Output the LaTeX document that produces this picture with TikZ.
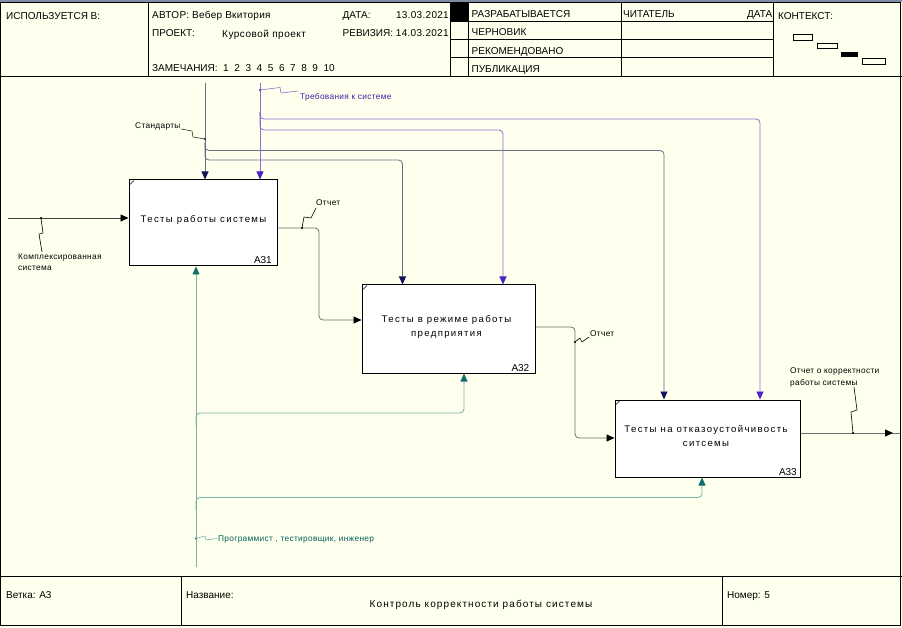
\documentclass[tikz,border=0pt]{standalone}
\usepackage{fontspec}
\setmainfont{Liberation Sans}
\newfontfamily\boxfont[LetterSpace=14]{Liberation Sans}
\newfontfamily\lblfont[LetterSpace=4]{Liberation Sans}
\usetikzlibrary{arrows.meta}

\definecolor{paper}{HTML}{FFFFEE}
\definecolor{topband}{HTML}{7E8CA6}
\definecolor{stdLine}{HTML}{6C6C84}
\definecolor{stdTip}{HTML}{14145A}
\definecolor{reqLine}{HTML}{8C6CD0}
\definecolor{reqTip}{HTML}{4A22C0}
\definecolor{reqText}{HTML}{3C1EA8}
\definecolor{outGrey}{HTML}{6E6E6E}
\definecolor{mechLine}{HTML}{7AB2A8}
\definecolor{mechTip}{HTML}{0A6E6A}
\definecolor{mechText}{HTML}{00605A}

\newcommand{\dg}{\hspace{5.6pt}}

\tikzset{
  rule/.style={line width=0.9pt, draw=black},
  hdr/.style={anchor=base west, inner sep=0pt, font=\fontsize{10}{12}\selectfont},
  hdre/.style={hdr, anchor=base east},
  act/.style={draw=black, fill=white, line width=1pt, inner sep=0pt, rectangle},
  acttxt/.style={anchor=base, inner sep=0pt, align=center, font=\boxfont\fontsize{9.6}{14}\selectfont},
  actnum/.style={anchor=base east, inner sep=0pt, font=\fontsize{10}{12}\selectfont},
  lbl/.style={anchor=base west, inner sep=0pt, align=left, font=\lblfont\fontsize{8.3}{11.5}\selectfont},
  conn/.style={line width=0.8pt, rounded corners=4pt},
  tipto/.style={-{Triangle[length=8pt,width=7pt,color=#1]}},
  squig/.style={line width=0.6pt},
  jdot/.style={fill=#1, draw=none},
}

\begin{document}
\begin{tikzpicture}[x=1pt,y=-1pt]
\useasboundingbox (0,0) rectangle (902,628);
\fill[paper] (0,0) rectangle (902,628);
\fill[topband] (0,0) rectangle (902,2.5);

% ---------- outer frame, header and footer rules ----------
\draw[rule, line width=1.2pt] (0.6,2.5) rectangle (900.4,625.4);
\draw[rule] (0,76.5) -- (902,76.5);
\draw[rule] (148.5,2.5) -- (148.5,76.5);
\draw[rule] (450.5,2.5) -- (450.5,76.5);
\draw[rule] (468.5,2.5) -- (468.5,76.5);
\draw[rule] (621.5,2.5) -- (621.5,76.5);
\draw[rule] (773.5,2.5) -- (773.5,76.5);
\draw[rule] (450.5,21) -- (773.5,21);
\draw[rule] (450.5,39) -- (773.5,39);
\draw[rule] (450.5,57) -- (773.5,57);
\fill[black] (451,3) rectangle (468,21);

\draw[rule] (0,576.5) -- (902,576.5);
\draw[rule] (181.5,576.5) -- (181.5,625.4);
\draw[rule] (722.5,576.5) -- (722.5,625.4);

% ---------- header texts ----------
\node[hdr] (used) at (6,20) {ИСПОЛЬЗУЕТСЯ В:};
\node[hdr] (author) at (152,18.5) {\addfontfeature{LetterSpace=3}АВТОР: Вебер Вкитория};
\node[hdr] (date) at (342.5,18.5) {ДАТА:};
\node[hdre] (dateval) at (449,18.5) {\addfontfeature{LetterSpace=3}13.03.2021};
\node[hdr] (project) at (152,36.5) {ПРОЕКТ:};
\node[hdr] (projname) at (222,37.5) {\addfontfeature{LetterSpace=5}Курсовой проект};
\node[hdr] (rev) at (342.5,36.5) {РЕВИЗИЯ: \addfontfeature{LetterSpace=3}14.03.2021};
\node[hdr] (notes) at (152,71.7) {ЗАМЕЧАНИЯ:\ \ 1\dg 2\dg 3\dg 4\dg 5\dg 6\dg 7\dg 8\dg 9\dg 10};

\node[hdr] (st1) at (471.5,17.5) {РАЗРАБАТЫВАЕТСЯ};
\node[hdr] (st2) at (471.5,35.8) {ЧЕРНОВИК};
\node[hdr] (st3) at (471.5,54.5) {РЕКОМЕНДОВАНО};
\node[hdr] (st4) at (471.5,72.8) {ПУБЛИКАЦИЯ};
\node[hdr] (reader) at (623,17.5) {ЧИТАТЕЛЬ};
\node[hdre] (rdate) at (772.5,17.5) {ДАТА};
\node[hdr] (ctx) at (778,19.5) {КОНТЕКСТ:};

% context map
\draw[line width=0.8pt] (793.5,34.5) rectangle (812,40);
\draw[line width=0.8pt] (817.5,43) rectangle (837,48);
\fill[black] (840.5,52) rectangle (858,57);
\draw[line width=0.8pt] (862.5,58.5) rectangle (885,64.5);

% ---------- footer texts ----------
\node[hdr] (branch) at (6,598) {Ветка: А3};
\node[hdr] (titlelbl) at (186,598) {Название:};
\node[hdr, anchor=base] (title) at (481,607.5) {\addfontfeature{LetterSpace=11}Контроль корректности работы системы};
\node[hdr] (pageno) at (727,598) {Номер: 5};

% ---------- activity boxes ----------
\node[act, minimum width=148pt, minimum height=86pt] (A31) at (203,223) {};
\node[act, minimum width=173pt, minimum height=88pt] (A32) at (448.5,329) {};
\node[act, minimum width=185pt, minimum height=77pt] (A33) at (707.5,438.5) {};
\foreach \b in {A31,A32,A33}
  \draw[line width=0.6pt] (\b.north west) ++(1.5,5) -- ++(4,-4);

\node[acttxt] (t31) at (203.5,222.7) {Тесты работы системы};
\node[acttxt] (t32) at (446.5,336.7) {Тесты в режиме работы\\предприятия};
\node[acttxt] (t33) at (706,446.7) {Тесты на отказоустойчивость\\ситсемы};
\node[actnum] (n31) at (272,263.3) {А31};
\node[actnum] (n32) at (529.5,371) {А32};
\node[actnum] (n33) at (797,475.7) {А33};

% ---------- input ----------
\coordinate (inStart) at (8,218);
\draw[conn, draw=black!75, tipto=black] (inStart) -- (inStart -| A31.west);
\fill[jdot=black] (41,218) circle (1.2);
\draw[squig, black] (41,218) -- (43,233) -- (39,234) -- (42,252);
\node[lbl] (inLbl) at (18,270.7) {Комплексированная\\система};

% ---------- control: standards ----------
\coordinate (stdTop) at (205,83);
\coordinate (stdA) at (205,143);
\coordinate (std33) at (664,150.5);
\coordinate (std32) at (402.5,160);
\draw[conn, draw=stdLine, tipto=stdTip] (stdTop) -- (stdTop |- A31.north);
\draw[conn, draw=stdLine, tipto=stdTip] (stdA) |- (std33) -- (std33 |- A33.north);
\draw[conn, draw=stdLine, tipto=stdTip] (stdA) |- (std32) -- (std32 |- A32.north);
\fill[jdot=stdTip] (205,139) circle (1.2);
\draw[squig, black!80] (205,139) -- (193,137) -- (192,131) -- (181,129);
\node[lbl] (stdLbl) at (135,128.3) {Стандарты};

% ---------- control: requirements ----------
\coordinate (reqTop) at (260,83);
\coordinate (reqA) at (260,112);
\coordinate (req33) at (760,119);
\coordinate (req32) at (503,130);
\draw[conn, draw=reqLine, tipto=reqTip] (reqTop) -- (reqTop |- A31.north);
\draw[conn, draw=reqLine, tipto=reqTip] (reqA) |- (req33) -- (req33 |- A33.north);
\draw[conn, draw=reqLine, tipto=reqTip] (reqA) |- (req32) -- (req32 |- A32.north);
\fill[jdot=reqTip] (260,90) circle (1.2);
\draw[squig, reqLine] (260,90) -- (280,87.5) -- (281,93) -- (298,91);
\node[lbl, text=reqText] (reqLbl) at (300,100) {Требования к системе};

% ---------- outputs ----------
\coordinate (o31) at (319,320);
\draw[conn, draw=outGrey, tipto=black] ([yshift=-5pt]A31.east) -| (o31) -- (o31 -| A32.west);
\fill[jdot=black] (302,228) circle (1.2);
\draw[squig, black] (302,228) -- (304,217) -- (311,218) -- (316,208);
\node[lbl] (o31Lbl) at (316,206) {Отчет};

\coordinate (o32) at (575,438);
\draw[conn, draw=outGrey, tipto=black] ([yshift=2pt]A32.east) -| (o32) -- (o32 -| A33.west);
\fill[jdot=black] (575,342) circle (1.2);
\draw[squig, black] (575,342) -- (580,338) -- (582,342) -- (589,337);
\node[lbl] (o32Lbl) at (590,336) {Отчет};

\coordinate (outEnd) at (900,433);
\coordinate (outTip) at (893,433);
\draw[conn, draw=outGrey] ([yshift=5.5pt]A33.east) -- (outEnd);
\draw[conn, draw=outGrey, tipto=black] ([yshift=5.5pt]A33.east) -- (outTip);
\fill[jdot=black] (853,433) circle (1.2);
\draw[squig, black] (853,433) -- (851,412) -- (857,410) -- (854,387);
\node[lbl] (outLbl) at (790,385) {Отчет о корректности\\работы системы};

% ---------- mechanism ----------
\coordinate (mechBot) at (196,567);
\coordinate (mechA) at (196,425);
\coordinate (mechB) at (196,510);
\coordinate (mech32) at (464,413);
\coordinate (mech33) at (702,497.5);
\draw[conn, draw=mechLine, tipto=mechTip] (mechBot) -- (mechBot |- A31.south);
\draw[conn, draw=mechLine, tipto=mechTip] (mechA) |- (mech32) -- (mech32 |- A32.south);
\draw[conn, draw=mechLine, tipto=mechTip] (mechB) |- (mech33) -- (mech33 |- A33.south);
\fill[jdot=mechTip] (196,538.5) circle (1.2);
\draw[squig, mechLine] (196,538.5) -- (205,536) -- (206,540) -- (217,538.5);
\node[lbl, text=mechText] (mechLbl) at (218,541.7) {Программист , тестировщик, инженер};
\end{tikzpicture}
\end{document}
